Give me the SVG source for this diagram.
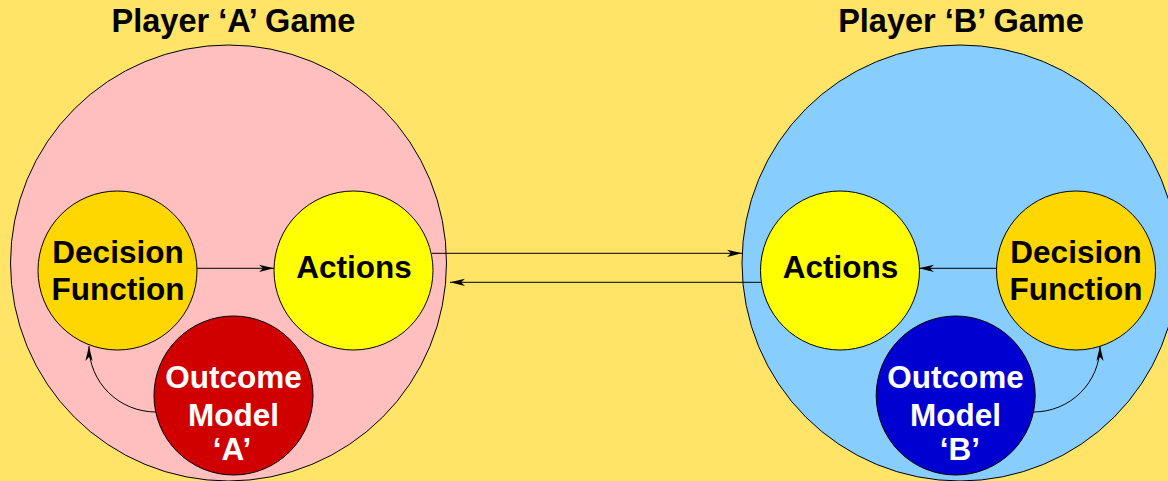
<svg xmlns="http://www.w3.org/2000/svg" width="1168" height="481" viewBox="0 0 1168 481">
  <style>
    .ring { stroke: #000; stroke-width: 1; }
    .lbl { font-family: "Liberation Sans", Arial, Helvetica, sans-serif; font-weight: bold; font-size: 31.5px; text-anchor: middle; fill: #000; }
    .lbl.w { fill: #fff; }
    .lbl.title { font-size: 32.5px; }
    .link { fill: none; stroke: #000; stroke-width: 1; marker-end: url(#barb); }
  </style>
  <defs>
    <marker id="barb" markerUnits="userSpaceOnUse" markerWidth="20" markerHeight="10" viewBox="-16 -5 17 10" refX="0" refY="0" orient="auto" overflow="visible">
      <path d="M0,0 L-15,-3.6 L-11,0 L-15,3.6 Z" fill="#000"/>
    </marker>
  </defs>

  <rect x="0" y="0" width="1168" height="481" fill="#FFE468"/>

  <!-- player A -->
  <g id="gameA">
    <circle class="ring" cx="228.5" cy="263" r="218" fill="#FFBFBF"/>
    <text class="lbl title" x="233.5" y="32">Player ‘A’ Game</text>
  </g>
  <g id="decisionA">
    <circle class="ring" cx="117.5" cy="270.5" r="79.5" fill="#FFD700"/>
    <text class="lbl" x="118" y="263">Decision</text>
    <text class="lbl" x="118" y="300">Function</text>
  </g>
  <g id="actionsA">
    <circle class="ring" cx="353.5" cy="270.5" r="79.5" fill="#FFFF00"/>
    <text class="lbl" x="354" y="278">Actions</text>
  </g>
  <g id="outcomeA">
    <circle class="ring" cx="233.5" cy="395.5" r="79.5" fill="#D00000"/>
    <text class="lbl w" x="233.5" y="388">Outcome</text>
    <text class="lbl w" x="233.5" y="425.5">Model</text>
    <text class="lbl w" x="232" y="460">‘A’</text>
  </g>

  <!-- player B -->
  <g id="gameB">
    <circle class="ring" cx="960" cy="263" r="218" fill="#87CEFF"/>
    <text class="lbl title" x="961" y="32">Player ‘B’ Game</text>
  </g>
  <g id="actionsB">
    <circle class="ring" cx="840" cy="270.5" r="79.5" fill="#FFFF00"/>
    <text class="lbl" x="840.5" y="278">Actions</text>
  </g>
  <g id="decisionB">
    <circle class="ring" cx="1076" cy="270.5" r="79.5" fill="#FFD700"/>
    <text class="lbl" x="1076" y="263">Decision</text>
    <text class="lbl" x="1076" y="300">Function</text>
  </g>
  <g id="outcomeB">
    <circle class="ring" cx="955.7" cy="395.5" r="79.5" fill="#0000D0"/>
    <text class="lbl w" x="955.5" y="388">Outcome</text>
    <text class="lbl w" x="955.5" y="425.5">Model</text>
    <text class="lbl w" x="960" y="460">‘B’</text>
  </g>

  <!-- connectors -->
  <g id="connectors">
    <path class="link" d="M197,268.3 L274,268.3"/>
    <path class="link" d="M996,268.3 L919,268.3"/>
    <path class="link" d="M432,253.3 L742,253.3"/>
    <path class="link" d="M761.5,282.3 L450,282.3"/>
    <path class="link" d="M156,412 A67 66 0 0 1 89,346"/>
    <path class="link" d="M1033.5,412 A66.5 66 0 0 0 1100,346"/>
  </g>
</svg>
